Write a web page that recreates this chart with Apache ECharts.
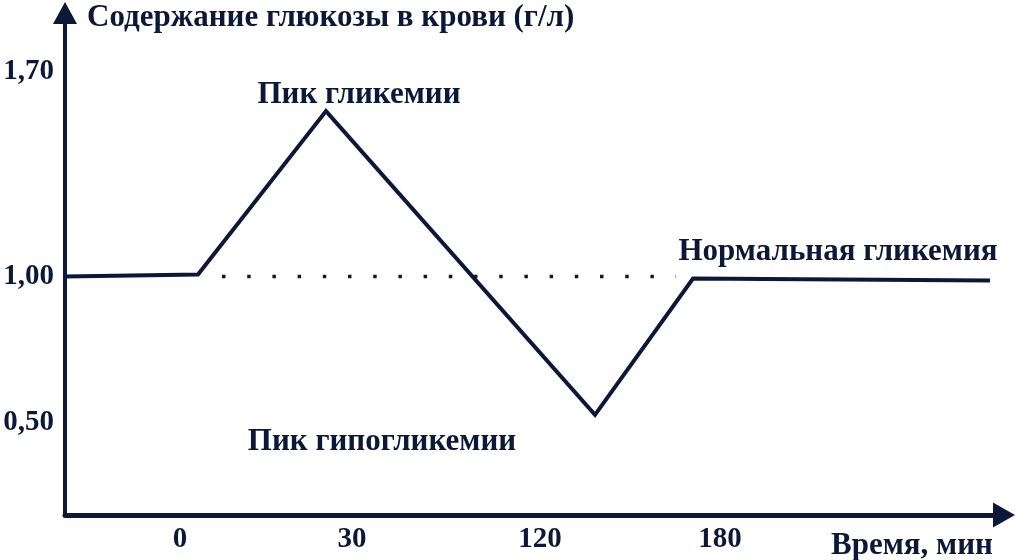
<!DOCTYPE html>
<html>
<head>
<meta charset="utf-8">
<script src="https://cdn.jsdelivr.net/npm/echarts@6/dist/echarts.min.js"></script>
<style>
html,body{margin:0;padding:0;background:#ffffff;}
#chart{width:1015px;height:560px;}
</style>
</head>
<body>
<div id="chart"></div>
<script>
// ---- data ----
const xTickPos = [11.5, 28.7, 47.5, 65.5];          // schematic positions of the time labels
const xTickLabels = ['0', '30', '120', '180'];
const yTickValues = [0.5, 1.0, 1.7];
const yTickLabels = ['0,50', '1,00', '1,70'];
const curveX = [0, 13.3, 26.1, 53.0, 62.8, 92.5];
const curveY = [1.0, 1.007, 1.565, 0.527, 0.993, 0.986];
const normalX = [15.7, 61.1];
const normalY = [1.0, 1.0];
const yAxisTitle = 'Содержание глюкозы в крови (г/л)';
const xAxisTitle = 'Время, мин';
const notePeak = 'Пик гликемии';
const noteHypo = 'Пик гипогликемии';
const noteNormal = 'Нормальная гликемия';

const INK = '#0c1838';
const FONT = '"Liberation Serif", "Times New Roman", serif';
const FS = 29;
const FS_TEXT = 31;

const chart = echarts.init(document.getElementById('chart'), null, {renderer: 'canvas'});

function txt(text, x, y, align) {
  return {
    type: 'text', x: x, y: y, z: 10,
    style: {text: text, fill: INK, font: 'bold ' + FS_TEXT + 'px ' + FONT,
            textAlign: align || 'center', textVerticalAlign: 'middle'}
  };
}

chart.setOption({
  backgroundColor: '#ffffff',
  animation: false,
  grid: {left: 65, right: 11, top: 13, bottom: 45},
  xAxis: {
    type: 'value', min: 0, max: 93.9,
    axisLine: {show: true, symbol: ['none', 'triangle'], symbolSize: [25, 22],
               lineStyle: {color: INK, width: 5}},
    axisTick: {show: false},
    splitLine: {show: false},
    axisLabel: {
      customValues: xTickPos,
      formatter: function (v) { const i = xTickPos.indexOf(v); return i >= 0 ? xTickLabels[i] : ''; },
      color: INK, fontFamily: FONT, fontWeight: 'bold', fontSize: FS, margin: 10
    }
  },
  yAxis: {
    type: 'value', min: 0.185, max: 1.9,
    axisLine: {show: true, symbol: ['none', 'triangle'], symbolSize: [24, 22],
               lineStyle: {color: INK, width: 4}},
    axisTick: {show: false},
    splitLine: {show: false},
    axisLabel: {
      customValues: yTickValues,
      formatter: function (v) { const i = yTickValues.indexOf(v); return i >= 0 ? yTickLabels[i] : ''; },
      color: INK, fontFamily: FONT, fontWeight: 'bold', fontSize: FS, margin: 11
    }
  },
  series: [
    {
      type: 'line', data: curveX.map((x, i) => [x, curveY[i]]),
      showSymbol: false, silent: true,
      lineStyle: {color: INK, width: 4, join: 'miter', cap: 'butt'}
    },
    {
      type: 'line', data: normalX.map((x, i) => [x, normalY[i]]),
      showSymbol: false, silent: true,
      lineStyle: {color: INK, width: 3.5, type: [3.5, 21.7]}
    }
  ],
  graphic: [
    txt(yAxisTitle, 87, 18, 'left'),
    txt(notePeak, 359, 95),
    txt(noteHypo, 382, 442),
    txt(noteNormal, 838, 252),
    txt(xAxisTitle, 912, 546)
  ]
});
</script>
</body>
</html>
